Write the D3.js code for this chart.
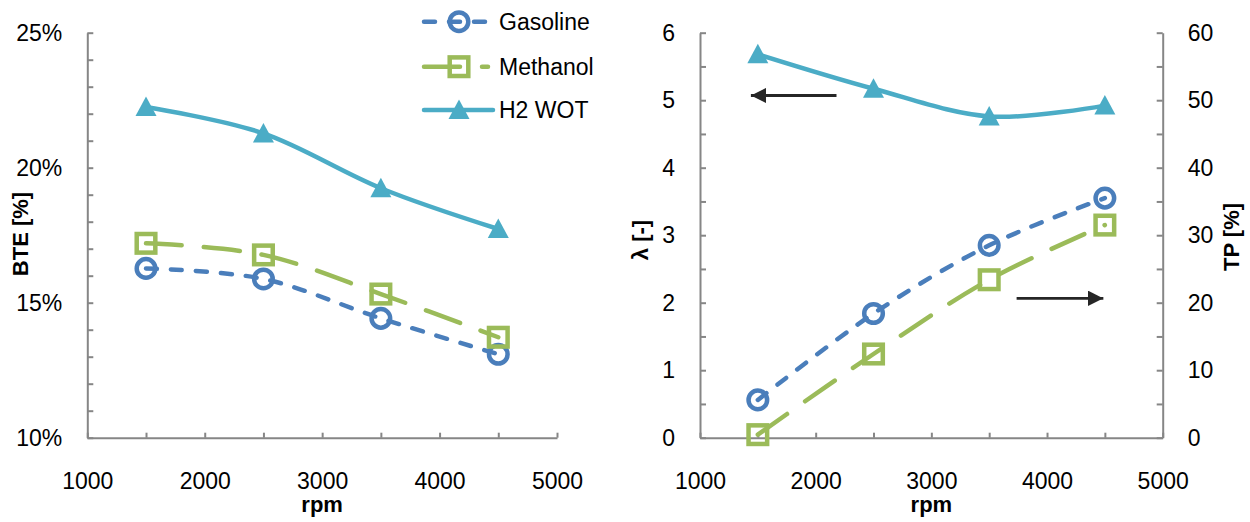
<!DOCTYPE html>
<html>
<head>
<meta charset="utf-8">
<script src="https://cdn.jsdelivr.net/npm/d3@7"></script>
<style>
  body { margin: 0; background: #fff; }
  text { font-family: "Liberation Sans", Arial, sans-serif; fill: #000; }
</style>
</head>
<body>
<script>
// data
var rpm = [1500, 2500, 3500, 4500];

// left panel: brake thermal efficiency (%)
var bteGasoline = [16.27, 15.88, 14.42, 13.09];
var bteMethanol = [17.2, 16.77, 15.32, 13.72];
var bteH2 = [22.25, 21.27, 19.24, 17.73];

// right panel: lambda for H2 (left axis), throttle position for the others (right axis)
var lambdaH2 = [5.68, 5.17, 4.76, 4.92];
var tpGasoline = [5.6, 18.4, 28.5, 35.5];
var tpMethanol = [0.45, 12.4, 23.4, 31.5];

var seriesNames = ["Gasoline", "Methanol", "H2 WOT"];
var xTicks = [1000, 2000, 3000, 4000, 5000];

var w = 1250, h = 522;
var plotTop = 32.7, plotBottom = 437.7;
var axisColor = "#868686";

var styles = {
  "Gasoline": {color: "#4a7ebb", dash: "11,14", marker: "circle"},
  "Methanol": {color: "#9bbb59", dash: "36,22", marker: "square"},
  "H2 WOT": {color: "#4bacc6", dash: null, marker: "triangle"}
};

var svg = d3.select("body").append("svg")
  .attr("width", w)
  .attr("height", h);

// scales
var xLeft = d3.scaleLinear().domain([1000, 5000]).range([87.3, 557]);
var yBte = d3.scaleLinear().domain([10, 25]).range([plotBottom, plotTop]);
var xRight = d3.scaleLinear().domain([1000, 5000]).range([700, 1162.7]);
var yLambda = d3.scaleLinear().domain([0, 6]).range([plotBottom, plotTop]);
var yTp = d3.scaleLinear().domain([0, 60]).range([plotBottom, plotTop]);

function styleAxis(g) {
  g.select(".domain").attr("stroke", axisColor).attr("stroke-width", 2);
  g.selectAll(".tick line").attr("stroke", axisColor).attr("stroke-width", 2);
  g.selectAll(".tick text")
    .style("font-family", "'Liberation Sans', Arial, sans-serif")
    .style("font-size", "23px")
    .attr("fill", "#000");
}

function xAxis(x) {
  svg.append("g")
    .attr("transform", "translate(0," + plotBottom + ")")
    .call(d3.axisBottom(x)
      .tickValues(d3.range(1000, 5001, 500))
      .tickSizeInner(-5).tickSizeOuter(0).tickPadding(35)
      .tickFormat(function(d) { return xTicks.indexOf(d) >= 0 ? d : ""; }))
    .call(styleAxis);
}

// left panel axes
svg.append("g")
  .attr("transform", "translate(" + xLeft.range()[0] + ",0)")
  .call(d3.axisLeft(yBte)
    .tickValues(d3.range(10, 26, 1))
    .tickSizeInner(-6).tickSizeOuter(0).tickPadding(25)
    .tickFormat(function(d) { return d % 5 === 0 ? d + "%" : ""; }))
  .call(styleAxis);
xAxis(xLeft);

// right panel axes
svg.append("g")
  .attr("transform", "translate(" + xRight.range()[0] + ",0)")
  .call(d3.axisLeft(yLambda)
    .tickValues(d3.range(0, 6.01, 0.5))
    .tickSizeInner(-6).tickSizeOuter(0).tickPadding(25)
    .tickFormat(function(d) { return d % 1 === 0 ? d : ""; }))
  .call(styleAxis);
svg.append("g")
  .attr("transform", "translate(" + xRight.range()[1] + ",0)")
  .call(d3.axisRight(yTp)
    .tickValues(d3.range(0, 61, 5))
    .tickSizeInner(-6).tickSizeOuter(0).tickPadding(25)
    .tickFormat(function(d) { return d % 10 === 0 ? d : ""; }))
  .call(styleAxis);
xAxis(xRight);

// axis titles
function title(txt, x, y, rot) {
  svg.append("text")
    .attr("transform", "translate(" + x + "," + y + ")" + (rot ? " rotate(-90)" : ""))
    .attr("text-anchor", "middle")
    .style("font-size", "22px")
    .style("font-weight", "bold")
    .text(txt);
}
title("rpm", d3.mean(xLeft.range()), 512, false);
title("rpm", d3.mean(xRight.range()), 512, false);
title("BTE [%]", 28, 234, true);
title("λ [-]", 648, 240, true);
title("TP [%]", 1239, 237, true);

// markers
function marker(g, type, color, cx, cy) {
  if (type === "circle") {
    g.append("circle").attr("cx", cx).attr("cy", cy).attr("r", 9.3)
      .attr("fill", "none").attr("stroke", color).attr("stroke-width", 4.5);
  } else if (type === "square") {
    g.append("rect").attr("x", cx - 9.3).attr("y", cy - 9.3)
      .attr("width", 18.6).attr("height", 18.6)
      .attr("fill", "none").attr("stroke", color).attr("stroke-width", 4.5);
  } else {
    g.append("path")
      .attr("transform", "translate(" + cx + "," + cy + ")")
      .attr("d", "M0,-10.5L10.5,9L-10.5,9Z")
      .attr("fill", color);
  }
}

var smooth = d3.curveCardinal.tension(0);

function drawSeries(name, x, y, vals) {
  var st = styles[name];
  var g = svg.append("g");
  var line = d3.line()
    .x(function(d, i) { return x(rpm[i]); })
    .y(function(d) { return y(d); })
    .curve(smooth);
  g.append("path")
    .datum(vals)
    .attr("d", line)
    .attr("fill", "none")
    .attr("stroke", st.color)
    .attr("stroke-width", 4.5)
    .attr("stroke-linecap", "round")
    .attr("stroke-dasharray", st.dash);
  vals.forEach(function(d, i) {
    marker(g, st.marker, st.color, x(rpm[i]), y(d));
  });
}

drawSeries("Gasoline", xLeft, yBte, bteGasoline);
drawSeries("Methanol", xLeft, yBte, bteMethanol);
drawSeries("H2 WOT", xLeft, yBte, bteH2);

drawSeries("Gasoline", xRight, yTp, tpGasoline);
drawSeries("Methanol", xRight, yTp, tpMethanol);
drawSeries("H2 WOT", xRight, yLambda, lambdaH2);

// arrows pointing to the axis each series belongs to
svg.append("defs").append("marker")
  .attr("id", "head")
  .attr("viewBox", "0 0 10 10")
  .attr("refX", 10).attr("refY", 5)
  .attr("markerWidth", 5.5).attr("markerHeight", 5.5)
  .attr("markerUnits", "strokeWidth")
  .attr("orient", "auto")
  .append("path").attr("d", "M0,0L10,5L0,10Z").attr("fill", "#262626");

function arrow(x1, x2, yv, x, y) {
  svg.append("line")
    .attr("x1", x(x1)).attr("x2", x(x2))
    .attr("y1", y(yv)).attr("y2", y(yv))
    .attr("stroke", "#262626").attr("stroke-width", 2.8)
    .attr("marker-end", "url(#head)");
}
arrow(2180, 1440, 5.07, xRight, yLambda);
arrow(3737, 4487, 20.65, xRight, yTp);

// legend
var legend = svg.append("g");
var legendY = [21.7, 66.7, 110];
seriesNames.forEach(function(name, i) {
  var st = styles[name];
  var ly = legendY[i];
  var x2 = name === "Gasoline" ? 485 : (name === "Methanol" ? 488 : 493);
  legend.append("line")
    .attr("x1", 424).attr("x2", x2)
    .attr("y1", ly).attr("y2", ly)
    .attr("stroke", st.color)
    .attr("stroke-width", 4.5)
    .attr("stroke-linecap", "round")
    .attr("stroke-dasharray", st.dash);
  marker(legend, st.marker, st.color, 459, ly);
  legend.append("text")
    .attr("x", 499).attr("y", ly)
    .attr("dy", "0.35em")
    .style("font-size", "23px")
    .text(name);
});
</script>
</body>
</html>
